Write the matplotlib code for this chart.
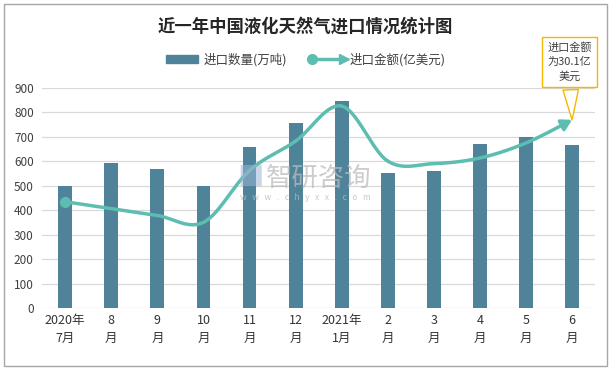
import numpy as np
import matplotlib
matplotlib.use("Agg")
import matplotlib.pyplot as plt
from matplotlib.lines import Line2D
from matplotlib.patches import Patch, Rectangle
from matplotlib.legend_handler import HandlerBase

plt.rcParams['font.family'] = ['Noto Sans CJK SC', 'DejaVu Sans']

# data
months = ['2020年\n7月', '8\n月', '9\n月', '10\n月', '11\n月', '12\n月',
          '2021年\n1月', '2\n月', '3\n月', '4\n月', '5\n月', '6\n月']
volume = [500, 595, 570, 500, 660, 757, 847, 552, 560, 671, 700, 667]   # 万吨
amount = [17.0, 15.9, 14.8, 13.7, 22.0, 26.7, 32.3, 23.5, 23.1, 24.0, 26.4, 30.1]  # 亿美元

bar_c = '#4F8399'
line_c = '#5DBDB1'


def smooth(x, y, n=30):
    # Catmull-Rom style curve like the spreadsheet "smoothed line"
    x = np.asarray(x, float)
    y = np.asarray(y, float)
    px = np.concatenate([[x[0]], x, [x[-1]]])
    py = np.concatenate([[y[0]], y, [y[-1]]])
    xs, ys = [], []
    t = np.linspace(0, 1, n)
    for i in range(1, len(px) - 2):
        for p, out in ((px, xs), (py, ys)):
            p0, p1, p2, p3 = p[i - 1], p[i], p[i + 1], p[i + 2]
            out.extend(0.5 * (2 * p1 + (-p0 + p2) * t +
                              (2 * p0 - 5 * p1 + 4 * p2 - p3) * t ** 2 +
                              (-p0 + 3 * p1 - 3 * p2 + p3) * t ** 3))
    return np.array(xs), np.array(ys)


class ArrowLineHandler(HandlerBase):
    def create_artists(self, legend, orig_handle, xdescent, ydescent,
                       width, height, fontsize, trans):
        y = height / 2 - ydescent
        x0, x1 = -xdescent, width - xdescent
        ln = Line2D([x0, x1], [y, y], color=line_c, lw=2.5, transform=trans)
        dot = Line2D([x0], [y], marker='o', ms=7, color=line_c, transform=trans)
        tip = Line2D([x1], [y], marker='>', ms=7, color=line_c, transform=trans)
        return [ln, dot, tip]


fig = plt.figure(figsize=(6.11, 3.70), dpi=100)
ax = fig.add_axes([0.069, 0.1676, 0.905, 0.5946])
x = np.arange(len(months))

ax.bar(x, volume, width=0.3, color=bar_c, zorder=2)
ax.set_xlim(-0.5, len(months) - 0.5)
ax.set_ylim(0, 900)
ax.set_yticks(range(0, 901, 100))
ax.set_xticks(x)
ax.set_xticklabels(months, fontsize=9, color='#333333', linespacing=1.5)
ax.tick_params(axis='y', labelsize=8.5, colors='#404040', length=0, pad=6)
ax.tick_params(axis='x', length=0, pad=4)
ax.yaxis.grid(True, color='#D9D9D9', lw=0.9, zorder=0)
ax.set_axisbelow(True)
for s in ax.spines.values():
    s.set_visible(False)

ax2 = ax.twinx()
ax2.set_ylim(0, 35.2)
ax2.axis('off')
sx, sy = smooth(x, amount)
ax2.plot(sx[:-4], sy[:-4], color=line_c, lw=2.5, solid_capstyle='round', zorder=3)
ax2.plot(x[0], amount[0], 'o', color=line_c, ms=7, zorder=4)
ax2.annotate('', xy=(sx[-1], sy[-1]), xytext=(sx[-8], sy[-8]),
             arrowprops=dict(arrowstyle='-|>,head_length=0.6,head_width=0.35',
                             color=line_c, lw=2.5, shrinkA=0, shrinkB=0),
             zorder=4)

# callout
ax2.annotate('进口金额\n为30.1亿\n美元', xy=(x[-1], amount[-1]),
             xytext=(569.5, 308), textcoords='figure pixels',
             ha='center', va='center', fontsize=8, color='#404040',
             linespacing=1.45,
             bbox=dict(boxstyle='square,pad=0.45', fc='white', ec='#F5B800', lw=1),
             arrowprops=dict(arrowstyle='wedge,tail_width=1.4,shrink_factor=0.5',
                             fc='white', ec='#F5B800', lw=1, shrinkB=0),
             zorder=6)

# watermark
fig.text(237 / 611, 1 - 178 / 370, '■', fontsize=19, color='#9DB5D6', alpha=0.55,
         ha='left', va='center')
fig.text(266 / 611, 1 - 178 / 370, '智研咨询', fontsize=19, color='#BBBBBB', alpha=0.75,
         ha='left', va='center')
fig.text(305 / 611, 1 - 198 / 370, 'w   w   w   .   c   h   y   x   x   .   c   o   m',
         fontsize=6, color='#BBBBBB', alpha=0.8, ha='center', va='center')

fig.text(0.5, 0.927, '近一年中国液化天然气进口情况统计图', ha='center', va='center',
         fontsize=12.5, fontweight='bold', color='#262626')

handles = [Patch(color=bar_c), Line2D([], [])]
fig.legend(handles, ['进口数量(万吨)', '进口金额(亿美元)'],
           handler_map={Line2D: ArrowLineHandler()},
           loc='center', bbox_to_anchor=(0.5, 0.838), ncol=2, frameon=False,
           fontsize=9, handlelength=2.6, handleheight=0.6, columnspacing=2.0,
           handletextpad=0.4, labelcolor='#404040')

fig.patches.append(Rectangle((4 / 611, 4 / 370), 603 / 611, 362 / 370,
                             transform=fig.transFigure, fill=False,
                             ec='#A6A6A6', lw=1))

fig.savefig('out.png', dpi=100)
